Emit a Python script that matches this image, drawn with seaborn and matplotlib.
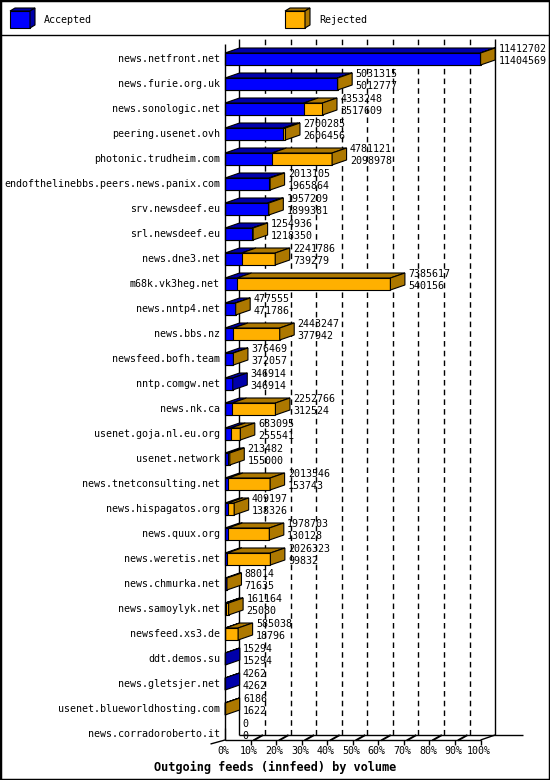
import numpy as np
import pandas as pd
import seaborn as sns
import matplotlib.pyplot as plt
from matplotlib.patches import Polygon, Rectangle
from matplotlib.lines import Line2D

hosts = [
    "news.netfront.net", "news.furie.org.uk", "news.sonologic.net",
    "peering.usenet.ovh", "photonic.trudheim.com",
    "endofthelinebbs.peers.news.panix.com", "srv.newsdeef.eu",
    "srl.newsdeef.eu", "news.dne3.net", "m68k.vk3heg.net", "news.nntp4.net",
    "news.bbs.nz", "newsfeed.bofh.team", "nntp.comgw.net", "news.nk.ca",
    "usenet.goja.nl.eu.org", "usenet.network", "news.tnetconsulting.net",
    "news.hispagatos.org", "news.quux.org", "news.weretis.net",
    "news.chmurka.net", "news.samoylyk.net", "newsfeed.xs3.de",
    "ddt.demos.su", "news.gletsjer.net", "usenet.blueworldhosting.com",
    "news.corradoroberto.it",
]
offered = [
    11412702, 5031315, 4353248, 2700285, 4781121, 2013105, 1957209, 1254936,
    2241786, 7385617, 477555, 2443247, 376469, 346914, 2252766, 683095,
    213482, 2013546, 409197, 1978703, 2026323, 88014, 161164, 585038,
    15294, 4262, 6186, 0,
]
accepted = [
    11404569, 5012777, 3517609, 2606456, 2098978, 1965864, 1899381, 1218350,
    739279, 540156, 471786, 377942, 372057, 346914, 312524, 255541,
    155000, 153743, 138326, 130128, 99832, 71635, 25080, 18796,
    15294, 4262, 1622, 0,
]

BLUE = "#0000ff"
BLUE_SIDE = "#0000aa"
ORANGE = "#ffb000"
ORANGE_SIDE = "#ad7800"

plt.rcParams["font.family"] = ["DejaVu Sans Mono"]
FS = 7.2

df = pd.DataFrame({"host": hosts, "offered": offered, "accepted": accepted})
biggest = df["offered"].max()
df["off_pct"] = df["offered"] / biggest * 100
df["acc_pct"] = df["accepted"] / biggest * 100

fig = plt.figure(figsize=(5.5, 7.8), dpi=100)
ax = fig.add_axes([0, 0, 1, 1])

BAR_H = 0.48
DX, DY = 5.67, 0.2  # depth of the 3d look, in percent / rows

sns.barplot(data=df, x="off_pct", y="host", color=ORANGE, saturation=1,
            width=BAR_H, edgecolor="black", linewidth=0.8, errorbar=None,
            ax=ax, zorder=3)
sns.barplot(data=df, x="acc_pct", y="host", color=BLUE, saturation=1,
            width=BAR_H, edgecolor="black", linewidth=0.8, errorbar=None,
            ax=ax, zorder=3)

ax.set_xlim(-88.03, 127.15)
ax.set_ylim(28.84, -2.36)
ax.set_axis_off()

n = len(df)
floor_front = n - 1 + BAR_H / 2
floor_back = floor_front - DY
wall_top = -0.8
k = dict(color="black", lw=1, solid_capstyle="butt")

# back wall + grid
ax.plot([DX, DX], [floor_back, wall_top], zorder=1, **k)
ax.plot([100 + DX] * 2, [floor_back, wall_top], zorder=1, **k)
for p in range(10, 100, 10):
    ax.plot([p + DX] * 2, [floor_back, wall_top], ls=(0, (4, 3)), zorder=1, **k)
ax.plot([0, 0], [floor_front, wall_top + DY], zorder=4, **k)

# floor
ax.plot([0, 100], [floor_front] * 2, zorder=1, **k)
ax.plot([DX, 116.6], [floor_back] * 2, zorder=1, **k)
ax.plot([100, 100 + DX], [floor_front, floor_back], zorder=1, **k)
ax.plot([0, -DX], [floor_front, floor_front + DY * 0.8], zorder=1, **k)
for p in range(10, 101, 10):
    ax.plot([p, p], [floor_front, floor_front + 0.2], zorder=1, **k)
    if p < 100:
        ax.plot([p + 0.25 * DX, p + 0.8 * DX], [floor_front, floor_back + 0.02],
                color="black", lw=1.4, zorder=1)
    ax.text(p - 0.6, 27.7, f"{p}%", ha="center", va="center", fontsize=FS)
ax.text(-0.6, 27.7, "0%", ha="center", va="center", fontsize=FS)

# 3d faces, taken from the bar patches seaborn drew
ep = dict(edgecolor="black", lw=0.8, zorder=3, joinstyle="miter")
for i, (po, pa) in enumerate(zip(ax.containers[0], ax.containers[1])):
    t = po.get_width()
    a = pa.get_width()
    y0 = po.get_y()
    y1 = y0 + po.get_height()
    if t > 0:
        if a > 0:
            ax.add_patch(Polygon([(0, y0), (a, y0), (a + DX, y0 - DY), (DX, y0 - DY)],
                                 facecolor=BLUE_SIDE, **ep))
        if t > a:
            ax.add_patch(Polygon([(a, y0), (t, y0), (t + DX, y0 - DY), (a + DX, y0 - DY)],
                                 facecolor=ORANGE_SIDE, **ep))
        side = ORANGE_SIDE if t > a else BLUE_SIDE
        ax.add_patch(Polygon([(t, y0), (t, y1), (t + DX, y1 - DY), (t + DX, y0 - DY)],
                             facecolor=side, **ep))
    ax.text(-2.0, i, df["host"][i], ha="right", va="center", fontsize=FS)
    ax.text(t + DX + 1.3, i - 0.4, str(df["offered"][i]), ha="left", va="center", fontsize=FS)
    ax.text(t + DX + 1.3, i + 0.08, str(df["accepted"][i]), ha="left", va="center", fontsize=FS)

fig.text(0.5, 1 - 767 / 780, "Outgoing feeds (innfeed) by volume", ha="center",
         va="center", fontsize=8.6, fontweight="bold")

# legend strip
lax = fig.add_axes([0, 1 - 35 / 780, 1, 35 / 780])
lax.set_xlim(0, 550)
lax.set_ylim(35, 0)
lax.set_axis_off()
for x0, front, shade, label in [(10, BLUE, BLUE_SIDE, "Accepted"),
                                (285, ORANGE, ORANGE_SIDE, "Rejected")]:
    lp = dict(edgecolor="black", lw=0.8)
    lax.add_patch(Polygon([(x0, 11), (x0 + 20, 11), (x0 + 20, 28), (x0, 28)], facecolor=front, **lp))
    lax.add_patch(Polygon([(x0, 11), (x0 + 5, 8), (x0 + 25, 8), (x0 + 20, 11)], facecolor=shade, **lp))
    lax.add_patch(Polygon([(x0 + 20, 11), (x0 + 25, 8), (x0 + 25, 25), (x0 + 20, 28)], facecolor=shade, **lp))
    lax.text(x0 + 34, 20, label, ha="left", va="center", fontsize=FS)

fig.add_artist(Line2D([0, 1], [1 - 35 / 780] * 2, color="black", lw=1))
fig.add_artist(Rectangle((0, 0), 1, 1, transform=fig.transFigure, fill=False,
                         edgecolor="black", lw=2.5))

fig.savefig("out.png", dpi=100)
